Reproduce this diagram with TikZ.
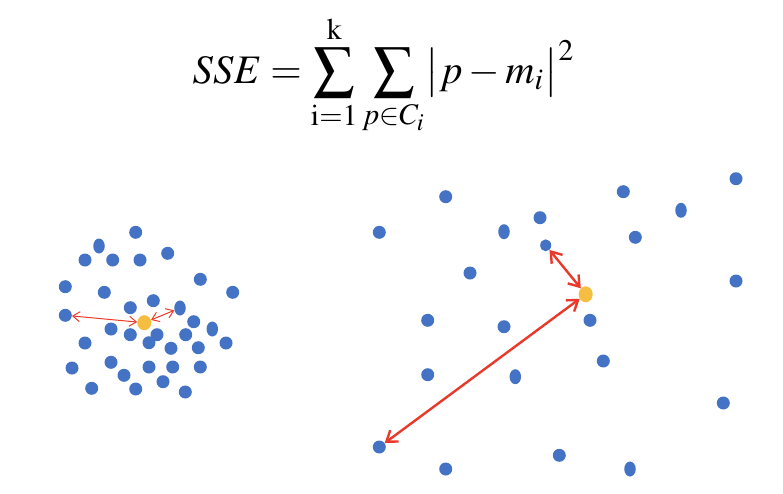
\documentclass[tikz,border=0pt]{standalone}
\usepackage{mathptmx}
\usetikzlibrary{positioning}
\usetikzlibrary{shapes.geometric, arrows.meta}
\definecolor{dotblue}{HTML}{4472C4}
\definecolor{dotgold}{HTML}{F5BE41}
\definecolor{linkred}{HTML}{E8392B}

\begin{document}
\begin{tikzpicture}[x=1pt,y=-1pt,
  dot/.style={ellipse,fill=dotblue,inner sep=0pt,minimum width=13pt,minimum height=13pt},
  tall/.style={dot,minimum width=11.5pt,minimum height=15pt},
  centre/.style={ellipse,fill=dotgold,inner sep=0pt,minimum width=14pt,minimum height=15pt},
  thinlink/.style={draw=linkred,line width=1pt,{Straight Barb[length=7pt,width=10pt]}-{Straight Barb[length=7pt,width=10pt]}},
  thicklink/.style={draw=linkred,line width=2.4pt,{Straight Barb[length=10pt,width=14pt]}-{Straight Barb[length=10pt,width=14pt]}}]
\useasboundingbox (0,0) rectangle (783,493);

% formula
\node[scale=4.05,anchor=base,inner sep=0pt] (sse) at (384,83)
  {$\displaystyle SSE=\sum_{\mathrm{i}=1}^{\mathrm{k}}\sum_{p\in C_i}\bigl|p-m_i\bigr|^2$};

% left cluster
\foreach \p [count=\i] in {(135.7,232.3),(85,260),(112.7,260),(140,260),(167.7,253.3),
  (65.3,286.7),(104.3,292.3),(200.3,279.3),(232.7,292.3),(130.3,307.7),(153.3,300.7),
  (193.7,321.7),(111,329),(130.3,334.7),(157,334.7),(185.7,334.7),(85,343),(149,342.7),
  (171,348.3),(198.3,347.7),(226,343),(72,368),(111,362.3),(124,375.3),(149,367),
  (172.7,367),(200.3,367),(91.7,388.3),(135.7,389),(163,381.7),(185.3,392)}
  \node[dot] (l\i) at \p {};
\node[tall] (lt1) at (99,246) {};
\node[tall] (lt2) at (212.3,329) {};
\node[tall] (la2) at (180,308) {};
\node[dot] (la1) at (65.3,315.3) {};
\node[centre] (lc) at (144.3,322.7) {};

% right cluster
\foreach \p [count=\i] in {(445.7,196.7),(379.3,232.3),(540,217.7),(623.3,191.7),
  (736,178.7),(635.3,237.3),(470,273),(736,281),(427.7,320.3),(504,326.7),(590,320.3),
  (603.3,361),(427.7,374.7),(723.3,403),(559.3,455.3),(445.7,469)}
  \node[dot] (r\i) at \p {};
\node[tall] (rt1) at (504,231.7) {};
\node[tall] (rt2) at (515.3,376.7) {};
\node[tall] (rt3) at (630,469) {};
\node[tall] (rt4) at (681,210.3) {};
\node[dot,minimum width=11pt,minimum height=12pt] (ra1) at (545.7,245.3) {};
\node[dot] (ra2) at (379.3,447) {};
\node[centre,minimum height=16pt] (rc) at (585.7,294.3) {};

% distances
\draw[thinlink] (la1) -- (lc);
\draw[thinlink] (lc) -- (la2);
\draw[thicklink] (ra1) -- (rc);
\draw[thicklink] (rc) -- (ra2);

\end{tikzpicture}
\end{document}
